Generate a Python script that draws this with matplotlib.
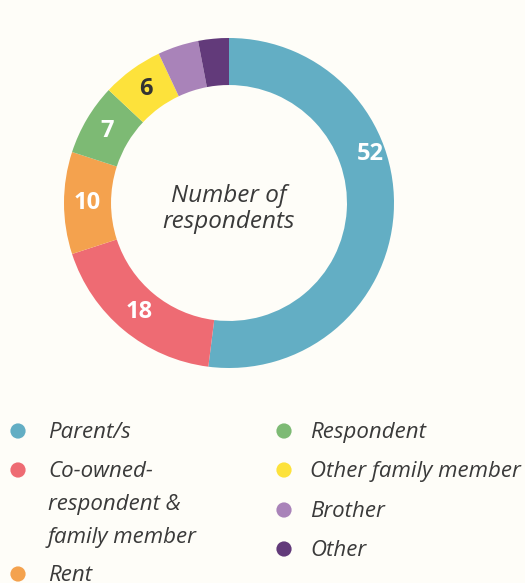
import numpy as np
import matplotlib.pyplot as plt

# chart data
categories = ["Parent/s", "Co-owned-\nrespondent &\nfamily member", "Rent",
              "Respondent", "Other family member", "Brother", "Other"]
values = [52, 18, 10, 7, 6, 4, 3]
colors = ["#63aec4", "#ee6b73", "#f4a24e", "#7dba74", "#fde23b", "#a983b9", "#623a7a"]
label_colors = ["white", "white", "white", "white", "#333333", "white", "white"]

BG = "#fefdf8"
TXT = "#3a3a3a"
W, H = 525, 583

plt.rcParams['font.family'] = ['Open Sans', 'DejaVu Sans']

fig = plt.figure(figsize=(W / 100, H / 100), dpi=100, facecolor=BG)

# donut axes, centre at (229, 203) px, radius 165 px
cx, cy, R = 229, 203, 165
ax = fig.add_axes([(cx - R) / W, 1 - (cy + R) / H, 2 * R / W, 2 * R / H])
ax.set_facecolor(BG)
ring = 0.285
wedges, _ = ax.pie(values, colors=colors, startangle=90, counterclock=False,
                   radius=1, wedgeprops=dict(width=ring, edgecolor='none'))
ax.set_xlim(-1, 1)
ax.set_ylim(-1, 1)
ax.set_aspect('equal')
ax.axis('off')

# value labels
r_lab = 1 - ring / 2
for i, (w, v) in enumerate(zip(wedges, values)):
    ang = (w.theta1 + w.theta2) / 2
    if i == 0:
        ang = 19
        r = 0.905
    else:
        r = r_lab
    if v < 5:
        continue
    x = r * np.cos(np.radians(ang))
    y = r * np.sin(np.radians(ang))
    ax.text(x, y, str(v), ha='center', va='center', fontsize=17,
            fontweight='bold', color=label_colors[i])

ax.text(0, 0.045, "Number of", ha='center', va='center', fontsize=17.5,
        style='italic', color=TXT)
ax.text(0, -0.115, "respondents", ha='center', va='center', fontsize=17.5,
        style='italic', color=TXT)

# legend drawn in pixel coordinates
lg = fig.add_axes([0, 0, 1, 1])
lg.set_xlim(0, W)
lg.set_ylim(H, 0)
lg.axis('off')
lg.patch.set_alpha(0)

col_x = [18, 284]
text_x = [48, 310]
line_gap = 33
rows = [(0, 431), (0, 470), (0, 574), (1, 431), (1, 470), (1, 510), (1, 549)]
for (col, y), name, c in zip(rows, categories, colors):
    lg.scatter(col_x[col], y, s=120, color=c, edgecolor='none')
    for k, line in enumerate(name.split("\n")):
        lg.text(text_x[col], y + 7 + k * line_gap, line, ha='left', va='baseline',
                fontsize=16, style='italic', color=TXT)

fig.savefig("out.png", dpi=100, facecolor=BG)
